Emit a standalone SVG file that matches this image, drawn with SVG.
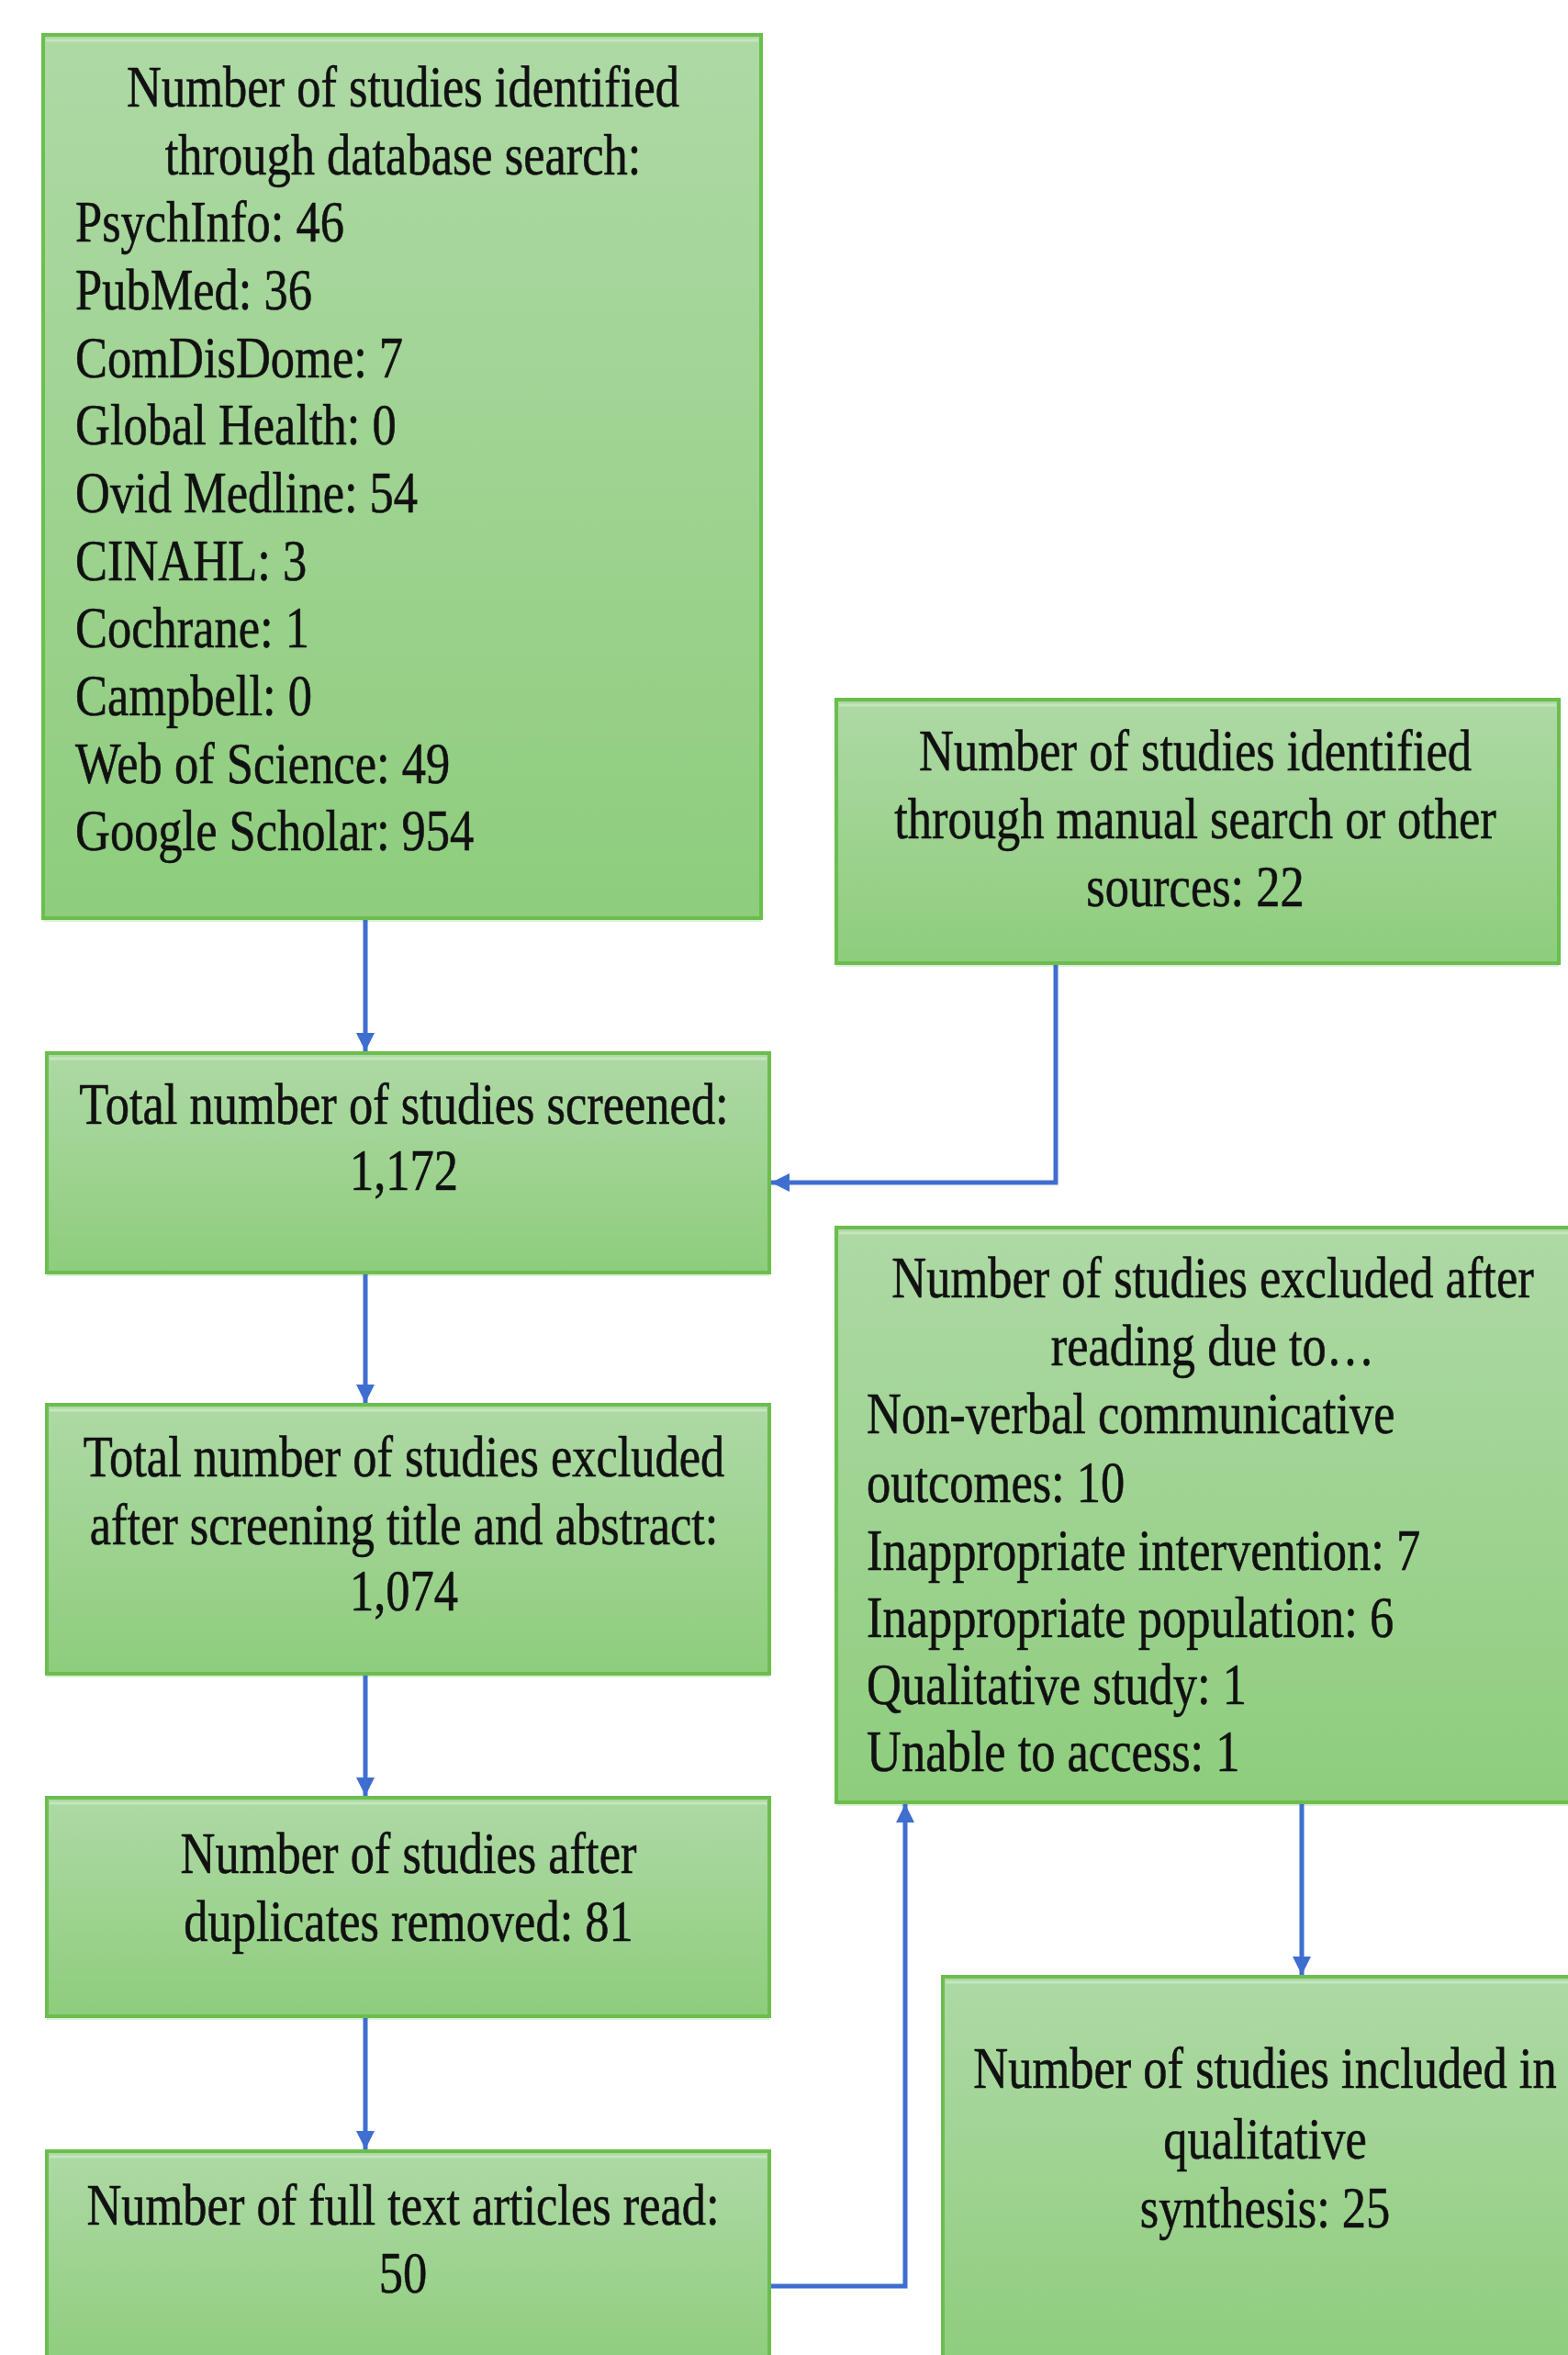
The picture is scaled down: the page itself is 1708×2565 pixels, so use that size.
<svg xmlns="http://www.w3.org/2000/svg" width="1708" height="2565" viewBox="0 0 1708 2565">
<defs>
<linearGradient id="g" x1="0" y1="0" x2="0" y2="1">
<stop offset="0" stop-color="#AED9A5"/>
<stop offset="1" stop-color="#8ECD7D"/>
</linearGradient>
<marker id="ah" viewBox="0 0 10 10" refX="10" refY="5" markerWidth="4" markerHeight="4" orient="auto" markerUnits="strokeWidth">
<path d="M0,0 L10,5 L0,10 z" fill="#3F6ED1"/>
</marker>
</defs>
<style>
.box{fill:url(#g);stroke:#6BBE4E;stroke-width:4}
.sh{fill:#DCEFD5}
.hl{stroke:#C4E6BC;stroke-width:3}
.c{font-family:"Liberation Serif","Times New Roman",serif;font-size:64px;fill:#111;stroke:#111;stroke-width:0.6;text-anchor:middle}
.l{font-family:"Liberation Serif","Times New Roman",serif;font-size:64px;fill:#111;stroke:#111;stroke-width:0.6;text-anchor:start}
.e{fill:none;stroke:#3F6ED1;stroke-width:5;marker-end:url(#ah)}
</style>
<rect width="1708" height="2565" fill="#fff"/>

<g id="n1">
<rect class="sh" x="47" y="42" width="782" height="962"/>
<rect class="box" x="47" y="38" width="782" height="962"/>
<line class="hl" x1="50" y1="44" x2="826" y2="44"/>
<text class="c" transform="translate(439,116) scale(0.82,1)">Number of studies identified</text>
<text class="c" transform="translate(439,190) scale(0.82,1)">through database search:</text>
<text class="l" transform="translate(82,263) scale(0.82,1)">PsychInfo: 46</text>
<text class="l" transform="translate(82,337) scale(0.82,1)">PubMed: 36</text>
<text class="l" transform="translate(82,411) scale(0.82,1)">ComDisDome: 7</text>
<text class="l" transform="translate(82,484) scale(0.82,1)">Global Health: 0</text>
<text class="l" transform="translate(82,558) scale(0.82,1)">Ovid Medline: 54</text>
<text class="l" transform="translate(82,632) scale(0.82,1)">CINAHL: 3</text>
<text class="l" transform="translate(82,705) scale(0.82,1)">Cochrane: 1</text>
<text class="l" transform="translate(82,779) scale(0.82,1)">Campbell: 0</text>
<text class="l" transform="translate(82,853) scale(0.82,1)">Web of Science: 49</text>
<text class="l" transform="translate(82,926) scale(0.82,1)">Google Scholar: 954</text>
</g>

<g id="n2">
<rect class="sh" x="911" y="766" width="787" height="287"/>
<rect class="box" x="911" y="762" width="787" height="287"/>
<line class="hl" x1="914" y1="768" x2="1695" y2="768"/>
<text class="c" transform="translate(1302,839) scale(0.82,1)">Number of studies identified</text>
<text class="c" transform="translate(1302,913) scale(0.82,1)">through manual search or other</text>
<text class="c" transform="translate(1302,987) scale(0.82,1)">sources: 22</text>
</g>

<g id="n3">
<rect class="sh" x="51" y="1151" width="787" height="239"/>
<rect class="box" x="51" y="1147" width="787" height="239"/>
<line class="hl" x1="54" y1="1153" x2="835" y2="1153"/>
<text class="c" transform="translate(440,1224) scale(0.82,1)">Total number of studies screened:</text>
<text class="c" transform="translate(440,1296) scale(0.82,1)">1,172</text>
</g>

<g id="n4">
<rect class="sh" x="51" y="1534" width="787" height="293"/>
<rect class="box" x="51" y="1530" width="787" height="293"/>
<line class="hl" x1="54" y1="1536" x2="835" y2="1536"/>
<text class="c" transform="translate(440,1608) scale(0.82,1)">Total number of studies excluded</text>
<text class="c" transform="translate(440,1682) scale(0.82,1)">after screening title and abstract:</text>
<text class="c" transform="translate(440,1754) scale(0.82,1)">1,074</text>
</g>

<g id="n5">
<rect class="sh" x="51" y="1962" width="787" height="238"/>
<rect class="box" x="51" y="1958" width="787" height="238"/>
<line class="hl" x1="54" y1="1964" x2="835" y2="1964"/>
<text class="c" transform="translate(445,2040) scale(0.82,1)">Number of studies after</text>
<text class="c" transform="translate(445,2114) scale(0.82,1)">duplicates removed: 81</text>
</g>

<g id="n6">
<rect class="box" x="51" y="2343" width="787" height="240"/>
<line class="hl" x1="54" y1="2349" x2="835" y2="2349"/>
<text class="c" transform="translate(439,2423) scale(0.82,1)">Number of full text articles read:</text>
<text class="c" transform="translate(439,2497) scale(0.82,1)">50</text>
</g>

<g id="n7">
<rect class="sh" x="911" y="1341" width="810" height="626"/>
<rect class="box" x="911" y="1337" width="810" height="626"/>
<line class="hl" x1="914" y1="1343" x2="1708" y2="1343"/>
<text class="c" transform="translate(1321,1413) scale(0.82,1)">Number of studies excluded after</text>
<text class="c" transform="translate(1321,1487) scale(0.82,1)">reading due to…</text>
<text class="l" transform="translate(944,1561) scale(0.82,1)">Non-verbal communicative</text>
<text class="l" transform="translate(944,1636) scale(0.82,1)">outcomes: 10</text>
<text class="l" transform="translate(944,1710) scale(0.82,1)">Inappropriate intervention: 7</text>
<text class="l" transform="translate(944,1783) scale(0.82,1)">Inappropriate population: 6</text>
<text class="l" transform="translate(944,1856) scale(0.82,1)">Qualitative study: 1</text>
<text class="l" transform="translate(944,1929) scale(0.82,1)">Unable to access: 1</text>
</g>

<g id="n8">
<rect class="box" x="1027" y="2153" width="700" height="430"/>
<line class="hl" x1="1030" y1="2159" x2="1708" y2="2159"/>
<text class="c" transform="translate(1378,2274) scale(0.82,1)">Number of studies included in</text>
<text class="c" transform="translate(1378,2351) scale(0.82,1)">qualitative</text>
<text class="c" transform="translate(1378,2426) scale(0.82,1)">synthesis: 25</text>
</g>

<g id="connectors">
<path class="e" d="M398,1002 V1145"/>
<path class="e" d="M1150,1051 V1288 H840"/>
<path class="e" d="M398,1388 V1528"/>
<path class="e" d="M398,1825 V1956"/>
<path class="e" d="M398,2198 V2341"/>
<path class="e" d="M840,2490 H986 V1965"/>
<path class="e" d="M1418,1965 V2151"/>
</g>
</svg>
